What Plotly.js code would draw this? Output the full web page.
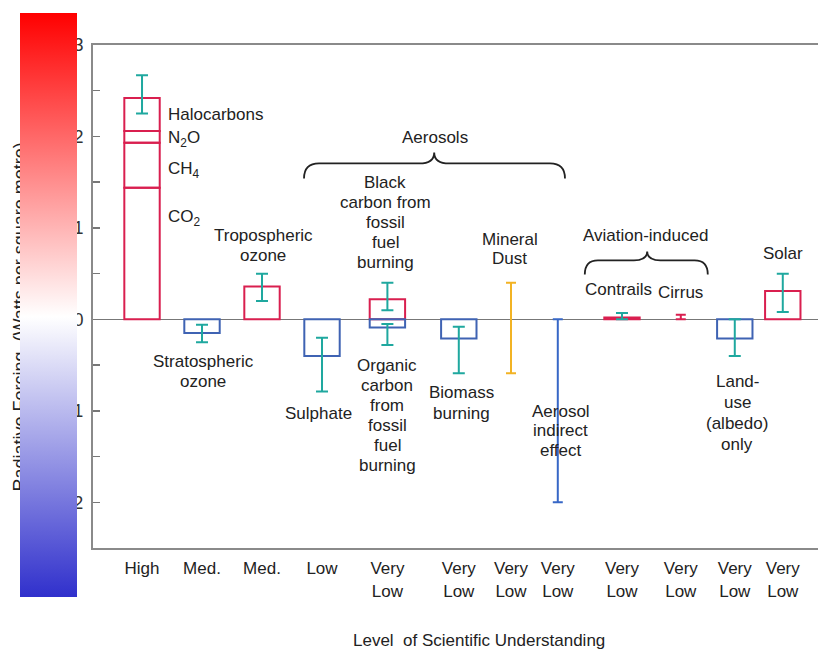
<!DOCTYPE html>
<html><head><meta charset="utf-8">
<script src="https://cdn.plot.ly/plotly-3.0.1.min.js"></script>
<style>html,body{margin:0;padding:0;background:#fff;overflow:hidden}#chart{width:818px;height:650px}</style>
</head><body><div id="chart"></div>
<script>
// ---- data (W per m^2) ----
const levels = ["High","Med.","Med.","Low","Very<br>Low","Very<br>Low","Very<br>Low","Very<br>Low","Very<br>Low","Very<br>Low","Very<br>Low","Very<br>Low"];

const ghgNames = ["CO2","CH4","N2O","Halocarbons"];
const ghgValues = [1.44, 0.49, 0.13, 0.36];
const ghgRange = [2.25, 2.67];

const agentNames = ["Stratospheric ozone","Tropospheric ozone","Sulphate","Black carbon","Organic carbon","Biomass burning","Contrails","Land-use (albedo)","Solar"];
const agentSlot = [1,2,3,4,4,5,8,10,11];
const agentValues = [-0.15, 0.36, -0.40, 0.22, -0.09, -0.21, 0.02, -0.21, 0.31];
const agentLow  = [-0.25, 0.20, -0.79, 0.10, -0.28, -0.59, 0.00, -0.40, 0.08];
const agentHigh = [-0.06, 0.50, -0.20, 0.40, -0.05, -0.08, 0.07, 0.00, 0.50];

const rangeNames = ["Mineral dust","Aerosol indirect effect","Cirrus"];
const rangeSlot = [6,7,9];
const rangeLow  = [-0.59, -2.00, 0.00];
const rangeHigh = [0.40, 0.00, 0.05];

const yTickVals = [-2,-1,0,1,2,3];
const yTickText = ["-2","-1","0","1","2","3"];

// ---- layout helpers (positions / styles) ----
const slotPos = [1.00, 2.00, 3.00, 4.00, 5.09, 6.28, 7.15, 7.93, 9.00, 9.98, 10.88, 11.68];
const RED = "#d91f4f", BLUE = "#3f63b3", TEAL = "#1fa89f", YELLOW = "#f2b324";
const rangeColors = [YELLOW, "#3767c6", RED];
const BARW = 0.59;

const ghgBase = ghgValues.map((v, i) => ghgValues.slice(0, i).reduce((a, b) => a + b, 0));
const ghgTotal = ghgValues.reduce((a, b) => a + b, 0);

const traces = [];
traces.push({
  type: "bar", name: "Greenhouse gases", x: ghgValues.map(() => slotPos[0]), y: ghgValues, base: ghgBase,
  width: BARW, hovertext: ghgNames, hoverinfo: "text", textposition: "none",
  marker: {color: "rgba(0,0,0,0)", line: {color: RED, width: 2}}, showlegend: false
});
traces.push({
  type: "bar", name: "Agents", x: agentSlot.map(s => slotPos[s]), y: agentValues,
  width: BARW, hovertext: agentNames, hoverinfo: "text", textposition: "none",
  marker: {color: "rgba(0,0,0,0)", line: {color: agentValues.map(v => v > 0 ? RED : BLUE), width: 2}}, showlegend: false
});
traces.push({
  type: "scatter", mode: "markers", name: "Uncertainty",
  x: [slotPos[0]].concat(agentSlot.map(s => slotPos[s])),
  y: [ghgTotal].concat(agentValues),
  marker: {opacity: 0, size: 2},
  error_y: {type: "data", symmetric: false,
    array: [ghgRange[1] - ghgTotal].concat(agentHigh.map((h, i) => h - agentValues[i])),
    arrayminus: [ghgTotal - ghgRange[0]].concat(agentLow.map((l, i) => agentValues[i] - l)),
    color: TEAL, thickness: 2, width: 6},
  showlegend: false, hoverinfo: "skip"
});
rangeNames.forEach((n, i) => {
  traces.push({
    type: "scatter", mode: "markers", name: n,
    x: [slotPos[rangeSlot[i]]], y: [rangeHigh[i]],
    marker: {opacity: 0, size: 2},
    error_y: {type: "data", symmetric: false, array: [0], arrayminus: [rangeHigh[i] - rangeLow[i]],
      color: rangeColors[i], thickness: 2, width: 5},
    showlegend: false, hoverinfo: "skip"
  });
});
// colour scale strip (decorative, no data points)
traces.push({
  type: "scatter", mode: "markers", x: [null], y: [null], hoverinfo: "skip", showlegend: false,
  marker: {color: [0], cmin: -1, cmax: 1, opacity: 0, size: 1,
    colorscale: [[0, "#3030cc"], [0.48, "#ffffff"], [1, "#ff0000"]],
    showscale: true,
    colorbar: {xref: "container", yref: "container", x: 20/818, xanchor: "left", y: 1 - 17/650, yanchor: "top",
      thicknessmode: "pixels", thickness: 57, lenmode: "pixels", len: 584,
      xpad: 0, ypad: 0, outlinewidth: 0, borderwidth: 0, showticklabels: false, ticks: ""}}
});

// ---- annotations ----
const F = {family: "Liberation Sans, Arial, sans-serif", size: 17, color: "#222"};
// [text, x, y, anchor, line gap px]
const notes = [
  ["Halocarbons", 1.40, 2.24, "left", 20],
  ["N<sub>2</sub>O", 1.40, 1.97, "left", 20],
  ["CH<sub>4</sub>", 1.40, 1.63, "left", 20],
  ["CO<sub>2</sub>", 1.40, 1.11, "left", 20],
  ["Tropospheric<br>ozone", 3.02, 0.81, "center", 20],
  ["Stratospheric<br>ozone", 2.02, -0.57, "center", 20],
  ["Aerosols", 5.88, 1.99, "center", 20],
  ["Black<br>carbon from<br>fossil<br>fuel<br>burning", 5.05, 1.06, "center", 20],
  ["Sulphate", 3.94, -1.03, "center", 20],
  ["Organic<br>carbon<br>from<br>fossil<br>fuel<br>burning", 5.09, -1.05, "center", 20],
  ["Biomass<br>burning", 6.32, -0.91, "center", 21],
  ["Mineral<br>Dust", 7.13, 0.77, "center", 19],
  ["Aerosol<br>indirect<br>effect", 7.98, -1.22, "center", 19.5],
  ["Aviation-induced", 9.39, 0.92, "center", 20],
  ["Contrails", 8.95, 0.33, "center", 20],
  ["Cirrus", 9.98, 0.29, "center", 20],
  ["Land-<br>use<br>(albedo)<br>only", 10.92, -1.02, "center", 21],
  ["Solar", 11.69, 0.72, "center", 20]
];
const annotations = [];
notes.forEach(n => {
  const lines = n[0].split("<br>");
  lines.forEach((ln, i) => {
    annotations.push({text: ln, x: n[1], y: n[2], xref: "x", yref: "y",
      yshift: -(i - (lines.length - 1) / 2) * n[4],
      xanchor: n[3], yanchor: "middle", showarrow: false, font: F});
  });
});
annotations.push({text: "Level\u00a0 of Scientific Understanding", xref: "paper", yref: "paper",
  x: 0.5324, y: -0.183, xanchor: "center", yanchor: "middle", showarrow: false, font: F});
annotations.push({text: "Radiative Forcing\u00a0 (Watts per square metre)", xref: "paper", yref: "paper",
  x: -0.1007, y: 0.46, xanchor: "center", yanchor: "middle", textangle: -90, showarrow: false,
  font: {family: F.family, size: 18, color: "#222"}});

// braces
function brace(x0, x1, xc, yBase, yEnd, yTip, dx) {
  return `M${x0},${yEnd} Q${x0},${yBase} ${x0+dx},${yBase} L${xc-dx},${yBase} Q${xc},${yBase} ${xc},${yTip} ` +
         `Q${xc},${yBase} ${xc+dx},${yBase} L${x1-dx},${yBase} Q${x1},${yBase} ${x1},${yEnd}`;
}
const shapes = [
  {type: "path", xref: "x", yref: "y", path: brace(3.70, 8.05, 5.87, 1.705, 1.54, 1.825, 0.25), line: {color: "#222", width: 1.8}},
  {type: "path", xref: "x", yref: "y", path: brace(8.38, 10.43, 9.42, 0.645, 0.49, 0.743, 0.22), line: {color: "#222", width: 1.8}}
];

const layout = {
  width: 818, height: 650,
  margin: {l: 93, r: 0, t: 45, b: 102},
  paper_bgcolor: "#fff", plot_bgcolor: "#fff",
  font: F, barmode: "overlay", showlegend: false,
  xaxis: {range: [0.183, 12.267], tickvals: slotPos, ticktext: levels, ticks: "",
    showline: true, mirror: true, linecolor: "#8a8a8a", linewidth: 2, showgrid: false, zeroline: false,
    tickfont: {family: F.family, size: 17, color: "#222"}, ticklabelstandoff: 4},
  yaxis: {range: [-2.5, 3], tickvals: yTickVals, ticktext: yTickText, ticks: "inside", ticklen: 7, tickwidth: 1.5, tickcolor: "#777",
    minor: {dtick: 0.5, tick0: 0, ticks: "inside", ticklen: 7, tickwidth: 1.5, tickcolor: "#777", showgrid: false},
    showline: true, linecolor: "#8a8a8a", linewidth: 2, showgrid: false,
    zeroline: true, zerolinecolor: "#777", zerolinewidth: 1.5,
    tickfont: {family: F.family, size: 18, color: "#333"}, ticklabelstandoff: 4},
  annotations: annotations, shapes: shapes
};

Plotly.newPlot("chart", traces, layout, {displayModeBar: false, staticPlot: true}).then(gd => {
  const info = gd.querySelector(".infolayer");
  if (info) info.querySelectorAll(".colorbar").forEach(cb => info.appendChild(cb));
});
</script></body></html>
